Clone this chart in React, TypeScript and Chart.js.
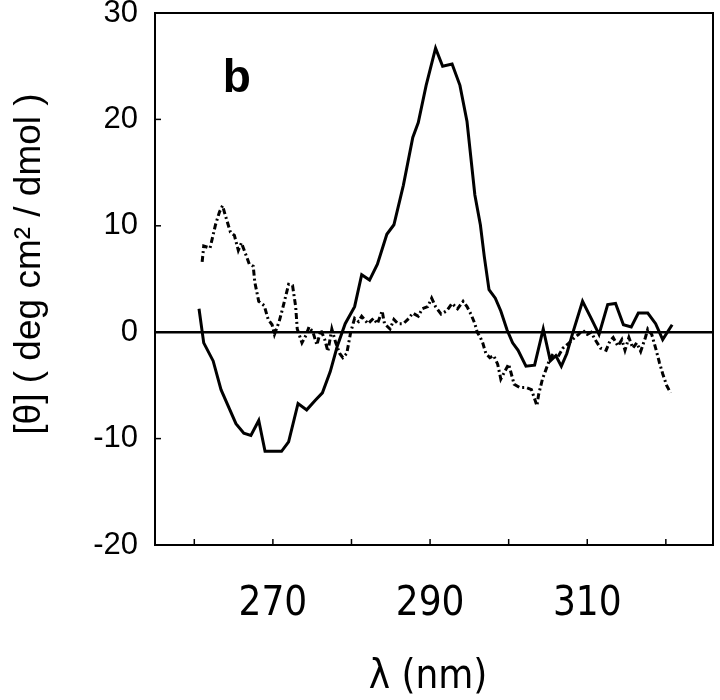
import React, { useEffect, useRef } from "react";
import { Chart, registerables } from "chart.js";

Chart.register(...registerables);

// wavelength (nm) and ellipticity for the solid curve
const solidX = [260.6, 261.2, 262.4, 263.4, 265.3, 266.3, 267.2, 268.2, 269.0, 270.1, 271.1, 272.0, 273.2, 274.3, 275.4, 276.3, 277.3, 278.2, 279.2, 280.4, 281.3, 282.3, 283.3, 284.5, 285.4, 286.6, 287.8, 288.5, 289.5, 290.7, 291.6, 292.8, 293.8, 294.7, 295.7, 296.4, 296.9, 297.5, 298.3, 299.0, 299.8, 300.5, 301.2, 302.2, 303.3, 304.4, 305.3, 306.0, 306.7, 307.4, 308.1, 309.4, 310.5, 311.5, 312.6, 313.6, 314.6, 315.6, 316.5, 317.7, 318.7, 319.6, 320.8];
const solidY = [2.2, -1.0, -2.7, -5.4, -8.6, -9.5, -9.7, -8.3, -11.2, -11.2, -11.2, -10.3, -6.7, -7.3, -6.4, -5.7, -3.7, -1.3, 0.8, 2.4, 5.4, 4.9, 6.4, 9.2, 10.1, 13.8, 18.3, 19.7, 23.2, 26.7, 25.0, 25.2, 23.2, 19.8, 12.9, 10.1, 7.1, 4.0, 3.2, 2.0, 0.2, -1.0, -1.7, -3.2, -3.1, 0.3, -2.7, -2.2, -3.2, -2.0, -0.2, 2.9, 1.3, -0.2, 2.6, 2.7, 0.7, 0.5, 1.8, 1.8, 0.8, -0.7, 0.7];

// dash-dot curve
const dashX = [261.0, 261.2, 262.0, 262.7, 263.2, 263.6, 263.9, 264.6, 265.1, 265.6, 266.0, 266.5, 267.0, 267.5, 267.7, 268.2, 268.9, 269.4, 269.9, 270.2, 270.8, 271.3, 272.0, 272.5, 272.9, 273.1, 273.7, 274.2, 274.6, 275.1, 275.6, 276.1, 276.6, 277.0, 277.5, 278.0, 278.5, 278.9, 279.4, 279.9, 280.4, 280.9, 281.3, 282.1, 282.8, 283.3, 283.9, 284.2, 284.9, 285.4, 285.9, 286.6, 287.3, 287.8, 288.5, 289.0, 289.7, 290.2, 290.7, 291.4, 292.1, 292.8, 293.5, 294.2, 294.7, 295.2, 295.7, 296.0, 296.4, 296.7, 297.1, 297.6, 298.1, 298.6, 299.0, 299.5, 300.0, 300.7, 301.4, 302.2, 302.9, 303.6, 303.8, 304.3, 304.8, 305.3, 305.7, 306.2, 306.9, 307.7, 308.4, 308.9, 309.4, 310.0, 310.5, 311.0, 311.7, 312.4, 312.9, 313.3, 313.9, 314.4, 314.8, 315.3, 315.8, 316.3, 316.8, 317.4, 317.7, 318.2, 318.7, 319.2, 319.6, 320.1, 320.6];
const dashY = [6.6, 8.1, 7.9, 10.1, 11.3, 11.9, 11.1, 9.4, 9.1, 7.7, 8.4, 7.4, 6.4, 6.2, 4.7, 2.9, 2.5, 1.2, 0.7, -0.2, 1.0, 2.4, 4.5, 4.4, 2.4, 0.3, -1.0, -0.3, 0.5, 0.0, -1.2, 0.2, -0.7, -1.8, 0.3, -1.0, -2.0, -2.4, -2.0, 0.0, 1.3, 1.0, 1.5, 0.8, 1.3, 0.8, 2.0, 0.8, 0.3, 1.2, 0.8, 0.8, 1.3, 1.8, 1.5, 2.2, 2.4, 3.2, 2.4, 1.7, 2.0, 2.7, 2.2, 2.9, 2.4, 1.7, 0.8, 0.0, -0.5, -1.0, -2.0, -2.4, -2.2, -3.0, -4.4, -3.7, -3.0, -4.9, -5.2, -5.2, -5.4, -6.9, -5.9, -4.4, -3.4, -2.4, -2.0, -2.4, -1.5, -1.0, -0.5, -0.2, 0.2, -0.2, 0.0, -0.7, -1.5, -1.7, -0.8, -0.5, -1.3, -0.7, -1.7, -0.5, -1.5, -1.0, -1.8, -0.5, 0.3, -0.2, -1.5, -2.9, -3.9, -5.0, -5.7];

const xLabelTicks = [270, 290, 310];
const xMinorTicks = [260, 280, 300, 320];
const yTicks = [-20, -10, 0, 10, 20, 30];
const xRange = [255, 326];
const yRange = [-20, 30];
const panelLabel = "b";
const panelLabelAt = [265.4, 23.8];
const xTitle = "λ (nm)";
const yTitle = "[θ] ( deg cm² / dmol )";

const SANS = "'Liberation Sans', Arial, Helvetica, sans-serif";
const NARROW = "'Liberation Sans Narrow', 'Arial Narrow', 'DejaVu Sans Condensed', 'Liberation Sans', sans-serif";

const framePlugin = {
  id: "frame",
  beforeDatasetsDraw(chart: any) {
    const { ctx, chartArea: a, scales } = chart;
    const xs = scales.x;
    const ys = scales.y;
    ctx.save();
    ctx.strokeStyle = "#000";
    ctx.lineWidth = 2.5;
    const y0 = ys.getPixelForValue(0);
    ctx.beginPath();
    ctx.moveTo(a.left, y0);
    ctx.lineTo(a.right, y0);
    ctx.stroke();
    ctx.lineWidth = 1.5;
    yTicks.forEach((v) => {
      const p = ys.getPixelForValue(v);
      ctx.beginPath();
      ctx.moveTo(a.left, p);
      ctx.lineTo(a.left + 6, p);
      ctx.stroke();
    });
    xLabelTicks.concat(xMinorTicks).forEach((v) => {
      const p = xs.getPixelForValue(v);
      ctx.beginPath();
      ctx.moveTo(p, a.bottom);
      ctx.lineTo(p, a.bottom - 6);
      ctx.stroke();
    });
    ctx.lineWidth = 2;
    ctx.strokeRect(a.left, a.top, a.right - a.left, a.bottom - a.top);
    ctx.restore();
  },
  afterDraw(chart: any) {
    const { ctx, chartArea: a, scales } = chart;
    ctx.save();
    ctx.fillStyle = "#000";
    ctx.textAlign = "center";
    ctx.textBaseline = "middle";
    ctx.font = `bold 46px ${SANS}`;
    ctx.fillText(panelLabel, scales.x.getPixelForValue(panelLabelAt[0]), scales.y.getPixelForValue(panelLabelAt[1]));
    ctx.font = `40px ${NARROW}`;
    ctx.fillText(xTitle, (a.left + a.right) / 2 - 6, 678);
    ctx.translate(30, 264);
    ctx.rotate(-Math.PI / 2);
    ctx.font = `37px ${SANS}`;
    ctx.fillText(yTitle, 0, 0);
    ctx.restore();
  },
};

export default function App() {
  const ref = useRef<HTMLCanvasElement | null>(null);
  useEffect(() => {
    if (!ref.current) return;
    const chart = new Chart(ref.current, {
      type: "line",
      data: {
        datasets: [
          {
            label: "solid",
            data: solidX.map((x, i) => ({ x, y: solidY[i] })),
            borderColor: "#000",
            borderWidth: 3,
            pointRadius: 0,
            tension: 0,
            fill: false,
          },
          {
            label: "dash-dot",
            data: dashX.map((x, i) => ({ x, y: dashY[i] })),
            borderColor: "#000",
            borderWidth: 3,
            borderDash: [6, 3, 2, 3],
            pointRadius: 0,
            tension: 0,
            fill: false,
          },
        ],
      },
      options: {
        responsive: false,
        animation: false,
        devicePixelRatio: 1,
        layout: { padding: { top: 13, right: 7, left: 0, bottom: 0 } },
        plugins: { legend: { display: false }, tooltip: { enabled: false } },
        scales: {
          x: {
            type: "linear",
            min: xRange[0],
            max: xRange[1],
            afterBuildTicks: (s: any) => {
              s.ticks = xLabelTicks.map((v) => ({ value: v }));
            },
            afterFit: (s: any) => {
              s.height = 155;
              s.paddingLeft = 0;
              s.paddingRight = 0;
            },
            grid: { display: false, drawTicks: false },
            border: { display: false },
            ticks: {
              color: "#000",
              font: { family: NARROW, size: 40 },
              padding: 36,
              maxRotation: 0,
              callback: (v: any) => String(v),
            },
          },
          y: {
            type: "linear",
            min: yRange[0],
            max: yRange[1],
            afterBuildTicks: (s: any) => {
              s.ticks = yTicks.map((v) => ({ value: v }));
            },
            afterFit: (s: any) => {
              s.width = 155;
              s.paddingTop = 0;
              s.paddingBottom = 0;
            },
            grid: { display: false, drawTicks: false },
            border: { display: false },
            ticks: {
              color: "#000",
              font: { family: SANS, size: 31 },
              padding: 17,
              callback: (v: any) => String(v),
            },
          },
        },
      },
      plugins: [framePlugin],
    });
    return () => chart.destroy();
  }, []);
  return (
    <div style={{ position: "absolute", left: 0, top: 0, width: 720, height: 700, background: "#fff" }}>
      <canvas ref={ref} width={720} height={700} style={{ display: "block", width: 720, height: 700 }} />
    </div>
  );
}
